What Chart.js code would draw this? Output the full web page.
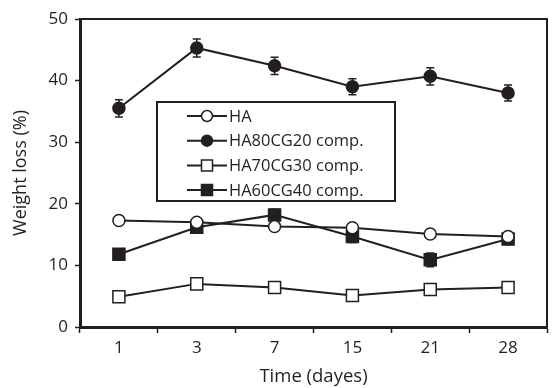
<!DOCTYPE html>
<html>
<head>
<meta charset="utf-8">
<script src="https://cdn.jsdelivr.net/npm/chart.js@4"></script>
<style>
  html, body { margin: 0; padding: 0; background: #fff; }
  #wrap { width: 557px; height: 388px; }
</style>
</head>
<body>
<div id="wrap"><canvas id="weight-loss-chart" width="557" height="388"></canvas></div>
<script>
const days = ['1', '3', '7', '15', '21', '28'];

const haValues = [17.3, 17.0, 16.3, 16.1, 15.1, 14.7];
const ha80Values = [35.5, 45.3, 42.4, 39.0, 40.7, 38.0];
const ha70Values = [4.9, 7.0, 6.4, 5.1, 6.1, 6.4];
const ha60Values = [11.8, 16.2, 18.2, 14.7, 10.9, 14.3];

// bars on the open markers are hidden under the marker
const haErrors = [0.3, 0.3, 0.3, 0.3, 0.3, 0.3];
const ha80Errors = [1.4, 1.45, 1.4, 1.3, 1.4, 1.3];
const ha70Errors = [0.3, 0.3, 0.3, 0.3, 0.3, 0.3];
const ha60Errors = [0.9, 1.0, 0.9, 1.0, 1.1, 0.9];

const yTicks = [0, 10, 20, 30, 40, 50];

const FONT = '"Open Sans", sans-serif';
const INK = '#231f20';

function series(label, values, errors, pointStyle, filled, radius) {
    return {
        label: label,
        data: values,
        errors: errors,
        borderColor: INK,
        borderWidth: 2,
        pointStyle: pointStyle,
        pointRadius: radius,
        pointHoverRadius: radius,
        pointBackgroundColor: filled ? INK : '#fff',
        pointBorderColor: INK,
        pointBorderWidth: 1.5,
        fill: false,
        tension: 0
    };
}

// error bars with caps, drawn under the markers
const errorBars = {
    id: 'errorBars',
    beforeDatasetsDraw(chart) {
        const ctx = chart.ctx;
        const y = chart.scales.y;
        ctx.save();
        ctx.strokeStyle = INK;
        ctx.lineWidth = 1.5;
        chart.data.datasets.forEach((ds, i) => {
            const meta = chart.getDatasetMeta(i);
            meta.data.forEach((pt, j) => {
                const e = ds.errors[j];
                const top = y.getPixelForValue(ds.data[j] + e);
                const bot = y.getPixelForValue(ds.data[j] - e);
                ctx.beginPath();
                ctx.moveTo(pt.x, top);
                ctx.lineTo(pt.x, bot);
                ctx.moveTo(pt.x - 4, top);
                ctx.lineTo(pt.x + 4, top);
                ctx.moveTo(pt.x - 4, bot);
                ctx.lineTo(pt.x + 4, bot);
                ctx.stroke();
            });
        });
        ctx.restore();
    }
};

// top and right edges of the frame
const frame = {
    id: 'frame',
    beforeDatasetsDraw(chart) {
        const a = chart.chartArea;
        const ctx = chart.ctx;
        ctx.save();
        ctx.strokeStyle = INK;
        ctx.lineWidth = 2;
        ctx.beginPath();
        ctx.moveTo(a.left, a.top);
        ctx.lineTo(a.right, a.top);
        ctx.lineTo(a.right, a.bottom);
        ctx.stroke();
        ctx.restore();
    }
};

// boxed legend inside the plot
const boxLegend = {
    id: 'boxLegend',
    afterDraw(chart) {
        const a = chart.chartArea;
        const ctx = chart.ctx;
        const bx = a.left + 77, by = a.top + 83, bw = 238, bh = 99;
        ctx.save();
        ctx.fillStyle = '#fff';
        ctx.fillRect(bx, by, bw, bh);
        ctx.strokeStyle = INK;
        ctx.lineWidth = 2;
        ctx.strokeRect(bx, by, bw, bh);
        ctx.font = '16.5px ' + FONT;
        ctx.textBaseline = 'middle';
        chart.data.datasets.forEach((ds, i) => {
            const cy = by + 14 + i * 24.7;
            const cx = bx + 50;
            ctx.strokeStyle = INK;
            ctx.lineWidth = 2;
            ctx.beginPath();
            ctx.moveTo(bx + 30, cy);
            ctx.lineTo(bx + 70, cy);
            ctx.stroke();
            ctx.fillStyle = ds.pointBackgroundColor;
            ctx.lineWidth = 1.5;
            ctx.beginPath();
            if (ds.pointStyle === 'circle') {
                ctx.arc(cx, cy, 5.5, 0, Math.PI * 2);
            } else {
                ctx.rect(cx - 5.5, cy - 5.5, 11, 11);
            }
            ctx.fill();
            ctx.stroke();
            ctx.fillStyle = INK;
            ctx.fillText(ds.label, bx + 72, cy + 1);
        });
        ctx.restore();
    }
};

const chartElement = document.getElementById('weight-loss-chart');
new Chart(chartElement, {
    type: 'line',
    data: {
        labels: days,
        datasets: [
            series('HA', haValues, haErrors, 'circle', false, 6),
            series('HA80CG20 comp.', ha80Values, ha80Errors, 'circle', true, 6),
            series('HA70CG30 comp.', ha70Values, ha70Errors, 'rect', false, 8.5),
            series('HA60CG40 comp.', ha60Values, ha60Errors, 'rect', true, 8.5)
        ]
    },
    options: {
        responsive: false,
        animation: false,
        layout: { padding: { top: 19, right: 2, left: 0, bottom: 0 } },
        plugins: {
            legend: { display: false },
            tooltip: { enabled: false }
        },
        scales: {
            x: {
                type: 'category',
                offset: true,
                grid: {
                    offset: true,
                    drawOnChartArea: false,
                    drawTicks: true,
                    tickLength: 6,
                    tickColor: INK,
                    tickWidth: 1.5
                },
                border: { display: true, color: INK, width: 3 },
                ticks: { color: INK, font: { family: FONT, size: 17 }, padding: 5 },
                title: {
                    display: true,
                    text: 'Time (dayes)',
                    color: INK,
                    font: { family: FONT, size: 18.5 },
                    padding: { top: 4, bottom: 0 }
                },
                afterFit(scale) { scale.height = 61; }
            },
            y: {
                min: 0,
                max: 50,
                afterBuildTicks(scale) { scale.ticks = yTicks.map(v => ({ value: v })); },
                grid: {
                    drawOnChartArea: false,
                    drawTicks: true,
                    tickLength: 5,
                    tickColor: INK,
                    tickWidth: 1.5
                },
                border: { display: true, color: INK, width: 3 },
                ticks: { color: INK, font: { family: FONT, size: 17 }, padding: 7 },
                title: {
                    display: true,
                    text: 'Weight loss (%)',
                    color: INK,
                    font: { family: FONT, size: 18 },
                    padding: { top: 10, bottom: 4 }
                },
                afterFit(scale) { scale.width = 80; }
            }
        }
    },
    plugins: [frame, errorBars, boxLegend]
});
</script>
</body>
</html>
